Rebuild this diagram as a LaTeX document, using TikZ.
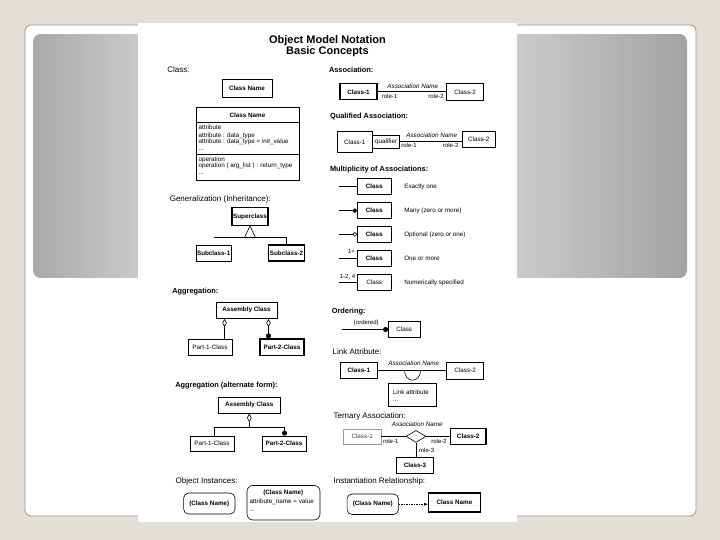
\documentclass[tikz,border=0pt]{standalone}
\usepackage{fontspec}
\setmainfont{Liberation Sans}
\usetikzlibrary{arrows.meta,shapes.geometric}
\definecolor{bgbeige}{HTML}{E4DFD4}
\definecolor{framegray}{HTML}{949494}
\definecolor{gleft}{HTML}{A9A9A9}
\definecolor{gc}{HTML}{CACACA}
\definecolor{gright}{HTML}{A3A3A3}
\newcommand\omTitle{\fontsize{11}{12.5}\selectfont\bfseries}
\newcommand\omHB{\fontsize{7.4}{8.4}\selectfont\bfseries}
\newcommand\omHR{\fontsize{8}{9}\selectfont}
\newcommand\omBB{\fontsize{6.3}{7}\selectfont\bfseries}
\newcommand\omBR{\fontsize{6.3}{7}\selectfont}
\newcommand\omSm{\fontsize{6}{6.8}\selectfont}
\begin{document}
\begin{tikzpicture}[x=1pt,y=-1pt,line width=0.6pt,
  ubox/.style={draw,line width=0.6pt,fill=white,inner sep=0pt,font=\omBB},
  rbox/.style={ubox,font=\omBR},
  tbx/.style={line width=1.1pt},
  hb/.style={anchor=west,inner sep=0pt,font=\omHB,text height=5.5pt,text depth=1.6pt},
  hr/.style={anchor=west,inner sep=0pt,font=\omHR,text height=5.8pt,text depth=1.7pt},
  txt/.style={inner sep=0pt,font=\omBR,text height=4.4pt,text depth=1.3pt},
  itx/.style={txt,font=\omBR\itshape},
  sml/.style={txt,font=\omSm},
  dtip/.style={{Diamond[open,length=8pt,width=4.5pt]}-},
  ttl/.style={inner sep=0pt,font=\omTitle}]
\useasboundingbox (0,0) rectangle (720,540);
% ---------- slide background ----------
\fill[bgbeige] (0,0) rectangle (720,540);
\draw[framegray,line width=0.8pt,fill=white,rounded corners=6pt] (25,25) rectangle (696,516);
\begin{scope}
  \clip[rounded corners=8pt] (33,34) rectangle (687,278);
  \fill[gc] (33,34) rectangle (687,278);
  \foreach \i in {0,...,35}{
    \pgfmathtruncatemacro\pp{100*\i/35}
    \fill[gc!\pp!gleft] ({33+3*\i},34) rectangle ({36.6+3*\i},278);
  }
  \foreach \i in {0,...,57}{
    \pgfmathtruncatemacro\pp{100*\i/57}
    \fill[gright!\pp!gc] ({515+3*\i},34) rectangle ({518.6+3*\i},278);
  }
\end{scope}
\fill[white] (138,23) rectangle (517,522);
% ---------- title ----------
\node[ttl] (title1) at (327.5,40.5) {Object Model Notation};
\node[ttl] (title2) at (327.5,51.5) {Basic Concepts};
% ---------- Class ----------
\node[hr] (hClass) at (167,70.6) {Class:};
\node[ubox,minimum width=50pt,minimum height=18pt] (cn1) at (247,88) {Class Name};
\node[ubox,minimum width=103pt,minimum height=73pt] (cn2) at (247.5,143.5) {};
\draw ([yshift=-16pt]cn2.north west) -- ([yshift=-16pt]cn2.north east);
\draw ([yshift=-48pt]cn2.north west) -- ([yshift=-48pt]cn2.north east);
\node[txt,font=\omBB] (cnh) at (247.5,115.5) {Class Name};
\node[txt,anchor=west] (at1) at (198.3,128.4) {attribute};
\node[txt,anchor=west] (at2) at (198.3,135.5) {attribute : data\_type};
\node[txt,anchor=west] (at3) at (198.3,142.3) {attribute : data\_type = init\_value};
\node[txt,anchor=west] (at4) at (198.3,149) {...};
\node[txt,anchor=west] (op1) at (198.3,159.8) {operation};
\node[txt,anchor=west] (op2) at (198.3,166.4) {operation ( arg\_list ) : return\_type};
\node[txt,anchor=west] (op3) at (198.3,173) {...};
% ---------- Generalization ----------
\node[hr] (hGen) at (169.5,199.7) {Generalization (Inheritance):};
\node[ubox,tbx,minimum width=36pt,minimum height=17.5pt] (sup) at (250,216.7) {Superclass};
\node[ubox,minimum width=35.5pt,minimum height=16pt] (sub1) at (213.7,253) {Subclass-1};
\node[ubox,tbx,minimum width=36pt,minimum height=16pt] (sub2) at (286.5,253) {Subclass-2};
\coordinate (gl) at (213.5,237);
\draw (gl) -- (gl -| sub2.north) -- (sub2.north);
\draw[fill=white] (sup.south) -- ++(-5.5,11.5) -- ++(11,0) -- cycle;
% ---------- Aggregation ----------
\node[hb] (hAgg) at (172,292) {Aggregation:};
\node[ubox,minimum width=61pt,minimum height=16.5pt] (asm1) at (246.5,310.3) {Assembly Class};
\node[rbox,minimum width=44pt,minimum height=16.7pt] (p1a) at (210,347.3) {Part-1-Class};
\node[ubox,tbx,minimum width=44pt,minimum height=16.7pt] (p2a) at (282,347.3) {Part-2-Class};
\draw[dtip] ([xshift=-22pt]asm1.south) -- ([xshift=14.5pt]p1a.north);
\draw[{Diamond[open,length=8pt,width=4.5pt]}-{Circle[length=5pt]}] ([xshift=22pt]asm1.south) -- ([xshift=-13.5pt]p2a.north);
% ---------- Aggregation (alternate form) ----------
\node[hb] (hAggAlt) at (175,385.7) {Aggregation (alternate form):};
\node[ubox,minimum width=61.5pt,minimum height=16pt] (asm2) at (249.3,405) {Assembly Class};
\node[rbox,minimum width=44pt,minimum height=15.5pt] (p1b) at (212,443.7) {Part-1-Class};
\node[ubox,minimum width=44pt,minimum height=15.5pt] (p2b) at (284,443.7) {Part-2-Class};
\coordinate (aj) at (249.3,427.3);
\draw[{Diamond[open,length=9pt,width=4.5pt]}-] (asm2.south) -- (aj);
\draw[-{Circle[length=5pt]}] ([xshift=2pt]p1b.north) |- (aj) -| ([xshift=0.5pt]p2b.north);
% ---------- Object instances ----------
\node[hr] (hObj) at (175.4,481.4) {Object Instances:};
\node[ubox,rounded corners=5pt,minimum width=51.4pt,minimum height=21pt] (oi1) at (209.3,503.5) {(Class Name)};
\node[ubox,rounded corners=6pt,minimum width=73pt,minimum height=34.5pt] (oi2) at (283.5,502.7) {};
\node[txt,font=\omBB] (oin) at (283.3,493.2) {(Class Name)};
\node[txt,anchor=west] (oia) at (249.3,502.4) {attribute\_name = value};
\node[txt,anchor=west] (oid) at (249.3,510.3) {...};
% ---------- Association ----------
\node[hb] (hAssoc) at (328.7,70.6) {Association:};
\node[ubox,tbx,minimum width=37pt,minimum height=16.3pt] (c1) at (358.5,91.8) {Class-1};
\node[rbox,minimum width=36.8pt,minimum height=16.3pt] (c2) at (465.1,91.8) {Class-2};
\draw (c1.east) -- (c2.west);
\node[itx] (an1) at (412.8,87.2) {Association Name};
\node[sml] (r11) at (389.5,96.8) {role-1};
\node[sml] (r12) at (436,96.8) {role-2};
% ---------- Qualified association ----------
\node[hb] (hQual) at (329.7,117) {Qualified Association:};
\node[rbox,minimum width=34.5pt,minimum height=21.7pt] (q1) at (354.8,141.8) {Class-1};
\node[rbox,anchor=west,minimum width=27pt,minimum height=13pt] (qq) at (q1.east) {qualifier};
\node[rbox,minimum width=33.5pt,minimum height=16pt] (q2) at (478.8,139) {Class-2};
\draw (qq.east) -- (qq.east -| q2.west);
\node[itx] (an2) at (431.7,136.3) {Association Name};
\node[sml] (r21) at (409,146) {role-1};
\node[sml] (r22) at (450.7,146) {role-2};
% ---------- Multiplicity ----------
\node[hb] (hMult) at (329.7,169.4) {Multiplicity of Associations:};
\node[ubox,minimum width=33.5pt,minimum height=16.2pt] (m1) at (374.2,186.5) {Class};
\node[ubox,minimum width=33.5pt,minimum height=16.2pt] (m2) at (374.2,210.6) {Class};
\node[ubox,minimum width=33.5pt,minimum height=16.2pt] (m3) at (374.2,234.4) {Class};
\node[ubox,minimum width=33.5pt,minimum height=16.2pt] (m4) at (374.2,258.2) {Class};
\node[rbox,minimum width=33.5pt,minimum height=16.2pt] (m5) at (374.2,282.2) {Class};
\coordinate (ml1) at (339,186.5);
\coordinate (ml2) at (339,210.6);
\coordinate (ml3) at (339,234.4);
\coordinate (ml4) at (338.5,258.2);
\coordinate (ml5) at (339,282.2);
\draw (ml1) -- (m1.west);
\draw[-{Circle[length=4.5pt]}] (ml2) -- (m2.west);
\draw[-{Circle[open,length=4.5pt]}] (ml3) -- (m3.west);
\draw (ml4) -- (m4.west);
\draw (ml5) -- (m5.west);
\node[sml] (k4) at (351.5,252.4) {1+};
\node[sml] (k5) at (347.5,276.6) {1-2, 4};
\node[txt,anchor=west] (d1) at (404,187.2) {Exactly one};
\node[txt,anchor=west] (d2) at (404,211) {Many (zero or more)};
\node[txt,anchor=west] (d3) at (404,234.8) {Optional (zero or one)};
\node[txt,anchor=west] (d4) at (404,258.6) {One or more};
\node[txt,anchor=west] (d5) at (404,282.6) {Numerically specified};
% ---------- Ordering ----------
\node[hb] (hOrd) at (331.5,311.6) {Ordering:};
\node[rbox,minimum width=31.7pt,minimum height=16pt] (ord) at (404.2,329.5) {Class};
\coordinate (ol) at (341.5,329.5);
\draw[-{Circle[length=5pt]}] (ol) -- (ord.west);
\node[sml] (ordl) at (366.3,323.3) {\{ordered\}};
% ---------- Link attribute ----------
\node[hr] (hLink) at (332.4,352.3) {Link Attribute:};
\node[ubox,tbx,minimum width=37.2pt,minimum height=16.2pt] (la1) at (358.8,370.7) {Class-1};
\node[rbox,minimum width=36.8pt,minimum height=16.2pt] (la2) at (465.1,370.7) {Class-2};
\draw (la1.east) -- (la2.west);
\draw ([xshift=26.6pt]la1.east) arc[start angle=180,end angle=0,x radius=8,y radius=9.5];
\node[itx] (an3) at (413.7,363.6) {Association Name};
\node[rbox,minimum width=48pt,minimum height=23.5pt] (lab) at (412.5,394.8) {};
\node[txt,anchor=west] (labt) at (392.6,392.6) {Link attribute};
\node[txt,anchor=west] (labd) at (392.6,400.2) {...};
% ---------- Ternary association ----------
\node[hr] (hTern) at (333.3,416) {Ternary Association:};
\node[rbox,draw=black!40,text=black!75,minimum width=37.6pt,minimum height=15.5pt] (t1) at (362.2,436.7) {Class-1};
\node[draw,diamond,fill=white,inner sep=0pt,minimum width=20pt,minimum height=12pt] (td) at (416,436.4) {};
\node[ubox,tbx,minimum width=35.5pt,minimum height=15.7pt] (t2) at (468.2,436.2) {Class-2};
\node[ubox,tbx,minimum width=36.5pt,minimum height=16pt] (t3) at (415,465.5) {Class-3};
\draw (t1.east |- td.west) -- (td.west);
\draw (td.east) -- (td.east -| t2.west);
\draw (td.south) -- (td.south |- t3.north);
\node[itx] (an4) at (417.3,425.4) {Association Name};
\node[sml] (r31) at (390.7,441.6) {role-1};
\node[sml] (r32) at (439,441.6) {role-2};
\node[sml] (r33) at (426.5,450.8) {role-3};
% ---------- Instantiation ----------
\node[hr] (hInst) at (333.3,481) {Instantiation Relationship:};
\node[ubox,rounded corners=5pt,minimum width=51.5pt,minimum height=20.5pt] (ir1) at (372.8,504.2) {(Class Name)};
\node[ubox,tbx,minimum width=51.7pt,minimum height=19pt] (ir2) at (454.4,502.5) {Class Name};
\draw[dash pattern=on 1.5pt off 1pt,-{Latex[length=4pt,width=3pt]}] (ir1.east) -- (ir1.east -| ir2.west);
\end{tikzpicture}
\end{document}
